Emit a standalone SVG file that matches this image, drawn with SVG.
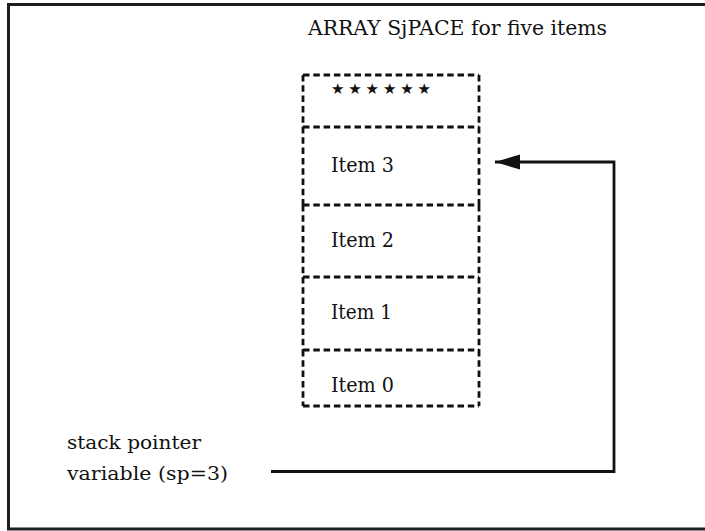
<svg xmlns="http://www.w3.org/2000/svg" width="705" height="531" viewBox="0 0 705 531">
  <style>
    .frame { fill: none; stroke: #1e1e1e; stroke-width: 3; }
    .cell { fill: none; stroke: #111; stroke-width: 2.8; stroke-dasharray: 6.5 3.8; }
    .wire { fill: none; stroke: #111; stroke-width: 2.8; }
    .txt { font-family: "DejaVu Serif", "Liberation Serif", serif; font-size: 20px; fill: #111; }
    .lbl { font-family: "DejaVu Serif", "Liberation Serif", serif; font-size: 18px; fill: #111; }
    .star { font-family: "DejaVu Sans", sans-serif; font-size: 15px; fill: #111; }
  </style>
  <defs>
    <marker id="arrow" markerUnits="userSpaceOnUse" markerWidth="26" markerHeight="18" refX="25" refY="9" orient="auto">
      <path d="M0 1.5 L25 9 L0 16.5 Z" fill="#111"/>
    </marker>
  </defs>

  <rect x="0" y="0" width="705" height="531" fill="#fff"/>

  <!-- page frame: left, top and bottom rules -->
  <path class="frame" d="M705 4.5 H8.5 V529 H705"/>

  <!-- heading -->
  <g id="title">
    <text class="txt" x="308" y="35" textLength="299" lengthAdjust="spacingAndGlyphs">ARRAY SjPACE for five items</text>
  </g>

  <!-- array cells, top to bottom -->
  <g id="cell-spare">
    <path class="cell" d="M303 75 H479 M303 75 V127 M479 75 V127"/>
    <text class="star" x="331" y="94" textLength="100" lengthAdjust="spacing">★★★★★★</text>
  </g>
  <g id="cell-item3">
    <path class="cell" d="M303 127 H479 M303 127 V205 M479 127 V205"/>
    <text class="txt" x="331" y="171.5" textLength="63" lengthAdjust="spacingAndGlyphs">Item 3</text>
  </g>
  <g id="cell-item2">
    <path class="cell" d="M303 205 H479 M303 205 V277 M479 205 V277"/>
    <text class="txt" x="331" y="247" textLength="63" lengthAdjust="spacingAndGlyphs">Item 2</text>
  </g>
  <g id="cell-item1">
    <path class="cell" d="M303 277 H479 M303 277 V350 M479 277 V350"/>
    <text class="txt" x="331" y="319" textLength="61" lengthAdjust="spacingAndGlyphs">Item 1</text>
  </g>
  <g id="cell-item0">
    <path class="cell" d="M303 350 H479 M303 350 V406 M479 350 V406 M303 406 H479"/>
    <text class="txt" x="331" y="392" textLength="63" lengthAdjust="spacingAndGlyphs">Item 0</text>
  </g>

  <!-- pointer variable label -->
  <g id="stack-pointer">
    <text class="lbl" x="67" y="449" textLength="134" lengthAdjust="spacingAndGlyphs">stack pointer</text>
    <text class="lbl" x="67" y="480" textLength="161" lengthAdjust="spacingAndGlyphs">variable (sp=3)</text>
  </g>

  <!-- pointer connector into Item 3 -->
  <g id="connectors">
    <path class="wire" d="M271 471.5 H614 V162 H495" marker-end="url(#arrow)"/>
  </g>
</svg>
